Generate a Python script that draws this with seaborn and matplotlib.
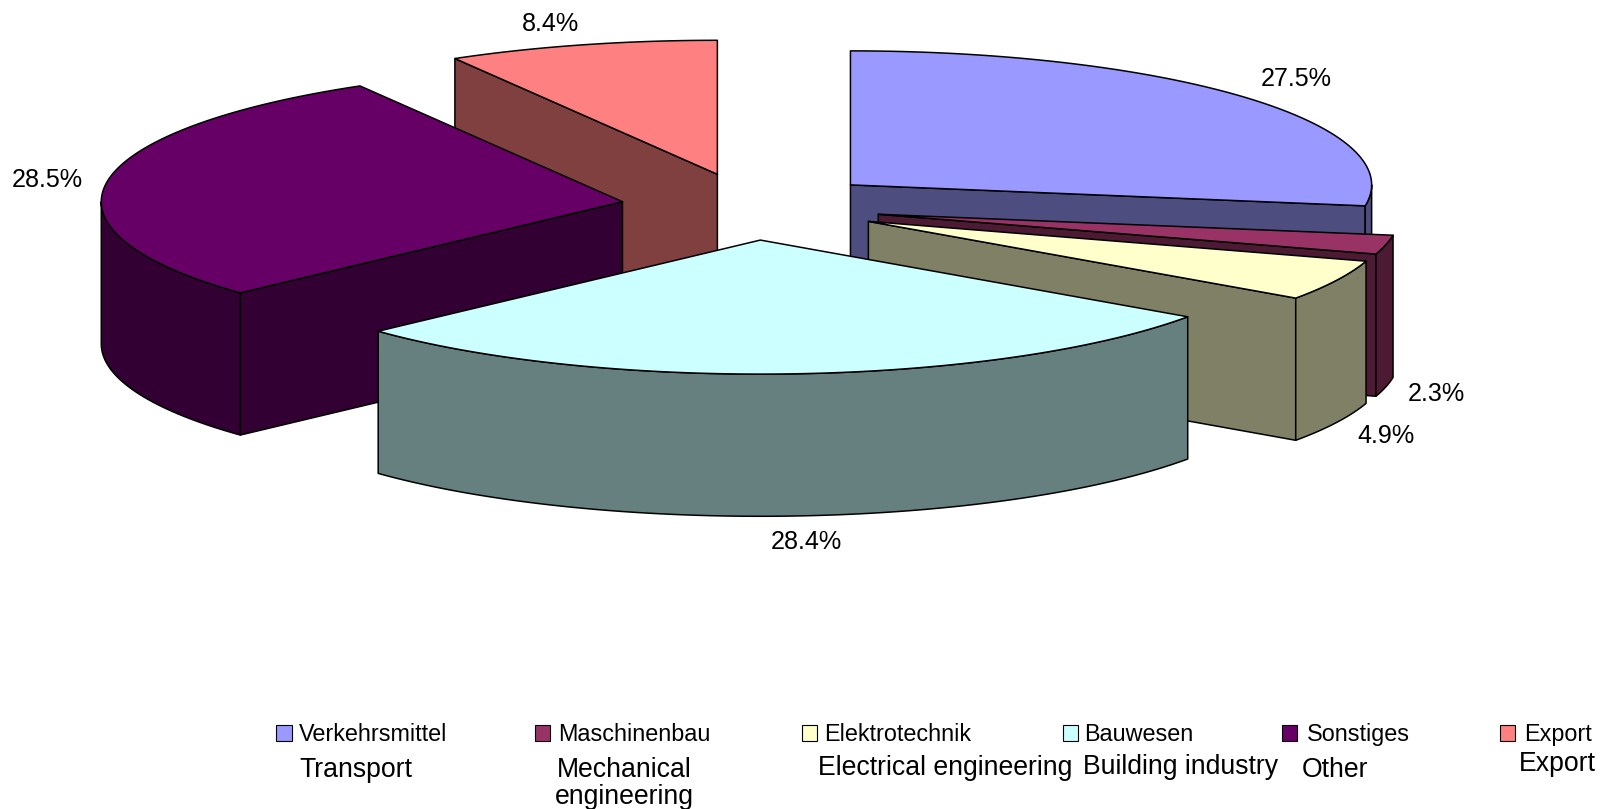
# exploded 3d pie, seaborn has no pie so the slices are polygons on a plain axes
import numpy as np
import seaborn as sns
import matplotlib
matplotlib.use("Agg")
import matplotlib.pyplot as plt
from matplotlib.patches import Polygon, Rectangle

categories = ["Verkehrsmittel", "Maschinenbau", "Elektrotechnik", "Bauwesen", "Sonstiges", "Export"]
translations = ["Transport", "Mechanical\nengineering", "Electrical engineering", "Building industry", "Other", "Export"]
shares = [27.5, 2.3, 4.9, 28.4, 28.5, 8.4]
hex_colors = ["#9999FF", "#993366", "#FFFFCC", "#CCFFFF", "#660066", "#FF8080"]

# layout, in pixels of the reference as it was shown (1568 wide)
W, H = 1568, 790.8
CX, CY = 734.5, 202
RX, RY = 509.5, 131
DEPTH = 139
EXPLODE = 0.25
DRAW_ORDER = [0, 1, 2, 5, 4, 3]
PCT_POS = [(1267, 77), (1404, 385), (1355, 426), (788, 530), (46, 176), (538, 23)]
SWATCH_X = [270, 523, 784, 1039, 1253, 1466]
NAME_X = [292, 546, 806, 1060, 1278, 1490]
TRANS_POS = [(293, 753, "left"), (610, 766, "center"), (800, 751, "left"),
             (1059, 750, "left"), (1273, 753, "left"), (1485, 747, "left")]

sns.set_theme(style="white")
plt.rcParams["font.family"] = ["Liberation Sans", "DejaVu Sans"]
palette = sns.color_palette(hex_colors)

fig, ax = plt.subplots(figsize=(16.04, 8.09), dpi=100)
ax.set_position([0, 0, 1, 1])
ax.set_xlim(0, W)
ax.set_ylim(H, 0)
ax.set_axis_off()


def rim(apex, a0, a1):
    t = np.radians(np.linspace(a0, a1, max(int(abs(a1 - a0) * 2), 2)))
    return np.column_stack([apex[0] + RX * np.sin(t), apex[1] - RY * np.cos(t)])


def face(pts, color, z):
    ax.add_patch(Polygon(pts, closed=True, facecolor=color, edgecolor="black",
                         linewidth=1.1, joinstyle="round", zorder=z))


def draw_slice(i, a0, a1, z):
    mid = np.radians((a0 + a1) / 2)
    apex = np.array([CX + EXPLODE * RX * np.sin(mid), CY - EXPLODE * RY * np.cos(mid)])
    down = np.array([0, DEPTH])
    color = palette[i]
    dark = tuple(c * 0.5 for c in color)
    # start edge shows on the left half, end edge on the right half
    if np.sin(np.radians(a0)) < -1e-6:
        e = rim(apex, a0, a0)[0]
        face([apex, e, e + down, apex + down], dark, z)
    if np.sin(np.radians(a1)) > 1e-6:
        e = rim(apex, a1, a1)[0]
        face([apex, e, e + down, apex + down], dark, z)
    # outer wall, only the part below the middle line is seen
    lo, hi = max(a0, 90), min(a1, 270)
    if hi > lo:
        arc = rim(apex, lo, hi)
        face(np.vstack([arc, (arc + down)[::-1]]), dark, z + 0.1)
    face(np.vstack([apex, rim(apex, a0, a1)]), color, z + 0.2)


edges = np.cumsum([0] + shares) / sum(shares) * 360
for z, i in enumerate(DRAW_ORDER):
    draw_slice(i, edges[i], edges[i + 1], z + 1)

for i, (x, y) in enumerate(PCT_POS):
    ax.text(x, y, f"{shares[i]:.1f}%", fontsize=18.1, ha="center", va="center", color="black", zorder=20)

# legend with the english names written under it
for i, name in enumerate(categories):
    ax.add_patch(Rectangle((SWATCH_X[i], 709), 15, 15, facecolor=palette[i], edgecolor="black",
                           linewidth=0.8, zorder=20))
    ax.text(NAME_X[i], 717.5, name, fontsize=16.8, ha="left", va="center", color="black", zorder=20)
    x, y, ha = TRANS_POS[i]
    ax.text(x, y, translations[i], fontsize=19.15, ha=ha, va="center", color="black",
            linespacing=1.03, multialignment="center", zorder=20)

fig.savefig("out.png", dpi=100, facecolor="white")
